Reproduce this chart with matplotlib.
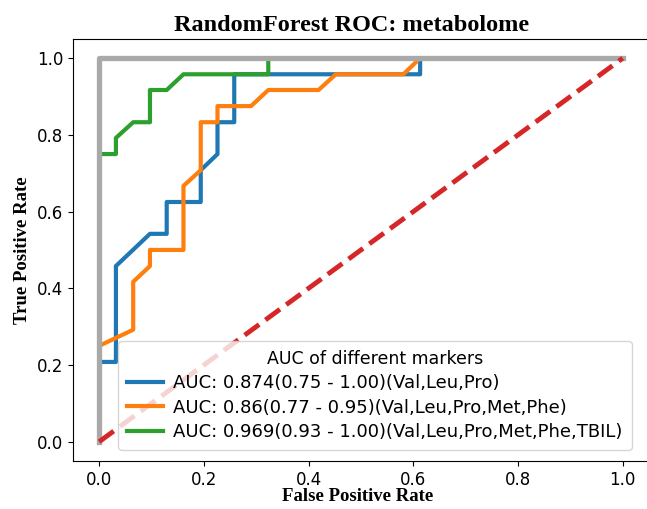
import numpy as np
import matplotlib.pyplot as plt

# ROC points (31 negatives, 24 positives)
fpr_a = [0, 0, 0.032, 0.032, 0.097, 0.129, 0.129, 0.194, 0.194, 0.226, 0.226, 0.258, 0.258, 0.613, 0.613, 1.0]
tpr_a = [0, 0.208, 0.208, 0.458, 0.542, 0.542, 0.625, 0.625, 0.708, 0.75, 0.833, 0.833, 0.958, 0.958, 1.0, 1.0]

fpr_b = [0, 0, 0.065, 0.065, 0.097, 0.097, 0.161, 0.161, 0.194, 0.194, 0.226, 0.226, 0.290, 0.323, 0.419, 0.452, 0.581, 0.613, 1.0]
tpr_b = [0, 0.25, 0.292, 0.417, 0.458, 0.5, 0.5, 0.667, 0.708, 0.833, 0.833, 0.875, 0.875, 0.917, 0.917, 0.958, 0.958, 1.0, 1.0]

fpr_c = [0, 0, 0.032, 0.032, 0.065, 0.097, 0.097, 0.129, 0.161, 0.323, 0.323, 1.0]
tpr_c = [0, 0.75, 0.75, 0.792, 0.833, 0.833, 0.917, 0.917, 0.958, 0.958, 1.0, 1.0]

labels = [
    'AUC: 0.874(0.75 - 1.00)(Val,Leu,Pro)',
    'AUC: 0.86(0.77 - 0.95)(Val,Leu,Pro,Met,Phe)',
    'AUC: 0.969(0.93 - 1.00)(Val,Leu,Pro,Met,Phe,TBIL)',
]

serif = ['Liberation Serif', 'DejaVu Serif']

fig = plt.figure(figsize=(6.47, 5.09), dpi=100)
# right edge of the axes runs past the figure, as in the (cropped) original
ax = fig.add_axes([0.1128, 0.0945, 0.8902, 0.8289])

ax.plot(fpr_a, tpr_a, color='tab:blue', lw=3, label=labels[0])
ax.plot(fpr_b, tpr_b, color='tab:orange', lw=3, label=labels[1])
ax.plot(fpr_c, tpr_c, color='tab:green', lw=3, label=labels[2])
ax.plot([0, 0, 1], [0, 1, 1], color='darkgrey', lw=3.8)
ax.plot([0, 1], [0, 1], color='tab:red', lw=3.5, linestyle='--')

ax.set_xlim(-0.05, 1.05)
ax.set_ylim(-0.05, 1.05)
ax.tick_params(labelsize=12)

ax.set_title('RandomForest ROC: metabolome', family=serif, fontweight='bold', fontsize=17.5, x=0.483)
ax.set_xlabel('False Positive Rate', family=serif, fontweight='bold', fontsize=13.5, labelpad=2)
ax.xaxis.set_label_coords(0.495, -0.065)
ax.set_ylabel('True Positive Rate', family=serif, fontweight='bold', fontsize=13.5)

leg = ax.legend(loc='lower right', bbox_to_anchor=(0.970, 0.026), borderaxespad=0,
                fontsize=13, title='AUC of different markers', title_fontsize=12.5,
                labelspacing=0.35, handlelength=2.0, handletextpad=0.55, borderpad=0.5)

fig.savefig('out.png', dpi=100)
